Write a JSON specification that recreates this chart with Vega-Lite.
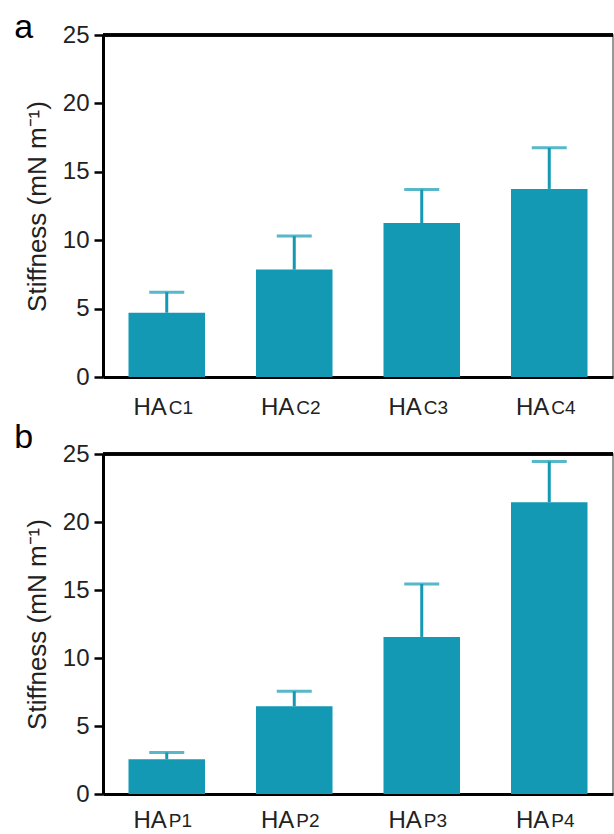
{
  "$schema": "https://vega.github.io/schema/vega-lite/v6.json",
  "padding": {"left": 13, "top": 10, "right": 1, "bottom": 0},
  "config": {
    "font": "Liberation Sans",
    "view": {"stroke": "#777", "strokeWidth": 1.5},
    "concat": {"spacing": 0},
    "title": {"fontSize": 34, "fontWeight": "normal", "color": "black", "anchor": "start", "frame": "bounds"}
  },
  "datasets": {
    "a": [
      {"group": "HAC1", "sub": "C1", "value": 4.7, "upper": 6.2},
      {"group": "HAC2", "sub": "C2", "value": 7.85, "upper": 10.3},
      {"group": "HAC3", "sub": "C3", "value": 11.25, "upper": 13.7},
      {"group": "HAC4", "sub": "C4", "value": 13.75, "upper": 16.75}
    ],
    "b": [
      {"group": "HAP1", "sub": "P1", "value": 2.55, "upper": 3.05},
      {"group": "HAP2", "sub": "P2", "value": 6.45, "upper": 7.55},
      {"group": "HAP3", "sub": "P3", "value": 11.55, "upper": 15.45},
      {"group": "HAP4", "sub": "P4", "value": 21.45, "upper": 24.45}
    ]
  },
  "vconcat": [
    {
      "width": 510, "height": 342,
      "title": {"text": "a", "baseline": "alphabetic", "dy": 53, "dx": -10},
      "data": {"name": "a"},
      "layer": [
        {
          "mark": {"type": "bar", "color": "#1399B4"},
          "encoding": {
            "x": {"field": "group", "type": "nominal", "sort": null, "title": null,
                  "scale": {"paddingInner": 0.4, "paddingOuter": 0.2},
                  "axis": {"labelExpr": "'HA'", "labelFontSize": 24, "labelColor": "#222", "labelAlign": "right", "labelDx": 3,
                           "labelBaseline": "alphabetic", "labelPadding": 37, "ticks": false, "tickSize": 0,
                           "domainColor": "black", "domainWidth": 3, "labelAngle": 0, "grid": false}},
            "y": {"field": "value", "type": "quantitative", "title": "Stiffness (mN m⁻¹)",
                  "scale": {"domain": [0, 25], "nice": false},
                  "axis": {"values": [0, 5, 10, 15, 20, 25], "labelFontSize": 24, "labelColor": "#222", "tickSize": 9, "tickWidth": 2.5,
                           "tickColor": "black", "domainColor": "black", "domainWidth": 3, "labelPadding": 5, "titleFontSize": 26,
                           "titleFontWeight": "normal", "titleColor": "#222", "titlePadding": 12, "grid": false}}
          }
        },
        {
          "mark": {"type": "rule", "color": "#1399B4", "strokeWidth": 3},
          "encoding": {
            "x": {"field": "group", "type": "nominal", "sort": null},
            "y": {"field": "value", "type": "quantitative", "title": "Stiffness (mN m⁻¹)"},
            "y2": {"field": "upper"}
          }
        },
        {
          "mark": {"type": "tick", "color": "#1399B4", "size": 35, "thickness": 3},
          "encoding": {
            "x": {"field": "group", "type": "nominal", "sort": null},
            "y": {"field": "upper", "type": "quantitative", "title": "Stiffness (mN m⁻¹)"}
          }
        },
        {
          "mark": {"type": "text", "align": "left", "baseline": "alphabetic", "dx": 2, "dy": 37, "fontSize": 19, "color": "#222"},
          "encoding": {
            "x": {"field": "group", "type": "nominal", "sort": null},
            "y": {"datum": 0, "type": "quantitative", "title": "Stiffness (mN m⁻¹)"},
            "text": {"field": "sub"}
          }
        },
        {
          "mark": {"type": "rule", "color": "black", "strokeWidth": 3},
          "encoding": {"y": {"datum": 25, "type": "quantitative", "title": "Stiffness (mN m⁻¹)"}}
        }
      ]
    },
    {
      "width": 510, "height": 340,
      "title": {"text": "b", "baseline": "alphabetic", "dy": 44, "dx": -10},
      "data": {"name": "b"},
      "layer": [
        {
          "mark": {"type": "bar", "color": "#1399B4"},
          "encoding": {
            "x": {"field": "group", "type": "nominal", "sort": null, "title": null,
                  "scale": {"paddingInner": 0.4, "paddingOuter": 0.2},
                  "axis": {"labelExpr": "'HA'", "labelFontSize": 24, "labelColor": "#222", "labelAlign": "right", "labelDx": 3,
                           "labelBaseline": "alphabetic", "labelPadding": 33, "ticks": false, "tickSize": 0,
                           "domainColor": "black", "domainWidth": 3, "labelAngle": 0, "grid": false}},
            "y": {"field": "value", "type": "quantitative", "title": "Stiffness (mN m⁻¹)",
                  "scale": {"domain": [0, 25], "nice": false},
                  "axis": {"values": [0, 5, 10, 15, 20, 25], "labelFontSize": 24, "labelColor": "#222", "tickSize": 9, "tickWidth": 2.5,
                           "tickColor": "black", "domainColor": "black", "domainWidth": 3, "labelPadding": 5, "titleFontSize": 26,
                           "titleFontWeight": "normal", "titleColor": "#222", "titlePadding": 12, "grid": false}}
          }
        },
        {
          "mark": {"type": "rule", "color": "#1399B4", "strokeWidth": 3},
          "encoding": {
            "x": {"field": "group", "type": "nominal", "sort": null},
            "y": {"field": "value", "type": "quantitative", "title": "Stiffness (mN m⁻¹)"},
            "y2": {"field": "upper"}
          }
        },
        {
          "mark": {"type": "tick", "color": "#1399B4", "size": 35, "thickness": 3},
          "encoding": {
            "x": {"field": "group", "type": "nominal", "sort": null},
            "y": {"field": "upper", "type": "quantitative", "title": "Stiffness (mN m⁻¹)"}
          }
        },
        {
          "mark": {"type": "text", "align": "left", "baseline": "alphabetic", "dx": 2, "dy": 33, "fontSize": 19, "color": "#222"},
          "encoding": {
            "x": {"field": "group", "type": "nominal", "sort": null},
            "y": {"datum": 0, "type": "quantitative", "title": "Stiffness (mN m⁻¹)"},
            "text": {"field": "sub"}
          }
        },
        {
          "mark": {"type": "rule", "color": "black", "strokeWidth": 3},
          "encoding": {"y": {"datum": 25, "type": "quantitative", "title": "Stiffness (mN m⁻¹)"}}
        }
      ]
    }
  ]
}
